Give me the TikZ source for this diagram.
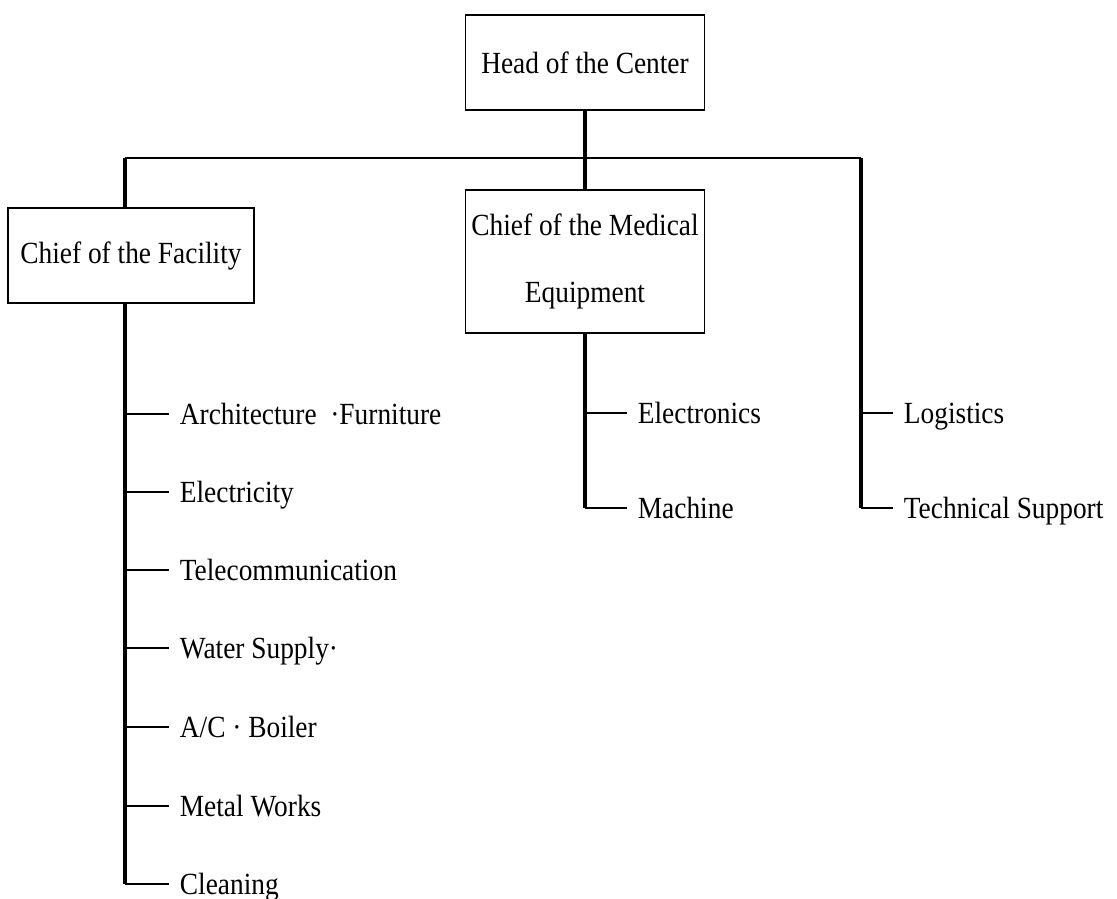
\documentclass[tikz,border=0pt]{standalone}
\usepackage{fontspec}
\setmainfont{Liberation Serif}[FakeStretch=0.89]
\usetikzlibrary{positioning}

\begin{document}
\begin{tikzpicture}[x=0.2mm, y=-0.2mm,
    unit/.style={draw, line width=1pt, minimum width=47.8mm, align=center,
                 font=\fontsize{17.5}{38}\selectfont},
    dept/.style={anchor=west, inner xsep=6pt, inner ysep=0pt,
                 text height=11.6pt, text depth=0pt, font=\fontsize{17.5}{21}\selectfont},
    bus/.style={line width=1pt},
    trunk/.style={line width=1.9pt},
    tick/.style={line width=0.9pt}]
    \useasboundingbox (0,0) rectangle (1117,899);

    % Units
    \node[unit, minimum height=19mm] (head) at (585,62.5) {Head of the Center};
    \node[unit, minimum height=19mm, minimum width=49.2mm] (fac) at (131,255.5) {Chief of the Facility};
    \node[unit, minimum height=28.6mm] (med) at (585,261.5) {Chief of the Medical\\Equipment};

    % Bus corners
    \coordinate (lbus) at (125,158);
    \coordinate (rbus) at (861,158);

    % Facility sections
    \node[dept] (arch)  at (169,414) {Architecture~~·Furniture};
    \node[dept] (elec)  at (169,492) {Electricity};
    \node[dept] (tele)  at (169,570) {Telecommunication};
    \node[dept] (water) at (169,648) {Water Supply·};
    \node[dept] (ac)    at (169,727) {A/C · Boiler};
    \node[dept] (metal) at (169,806) {Metal Works};
    \node[dept] (clean) at (169,884) {Cleaning};

    % Medical equipment sections
    \node[dept] (etron) at (627,413) {Electronics};
    \node[dept] (mach)  at (627,508) {Machine};

    % Other sections
    \node[dept] (logi) at (893,413) {Logistics};
    \node[dept] (tech) at (893,508) {Technical Support};

    % Top lines
    \draw[trunk] (head.south) -- (med.north);
    \draw[bus] (lbus) -- (rbus);
    \draw[trunk] (lbus) -- (fac.north -| lbus);
    \draw[trunk] (rbus) -- (tech.west -| rbus);

    % Facility trunk
    \draw[trunk] (fac.south -| lbus) -- (clean.west -| lbus);
    \draw[tick] (arch.west -| lbus) -- (arch.west);
    \draw[tick] (elec.west -| lbus) -- (elec.west);
    \draw[tick] (tele.west -| lbus) -- (tele.west);
    \draw[tick] (water.west -| lbus) -- (water.west);
    \draw[tick] (ac.west -| lbus) -- (ac.west);
    \draw[tick] (metal.west -| lbus) -- (metal.west);
    \draw[tick] (clean.west -| lbus) -- (clean.west);

    % Medical trunk
    \draw[trunk] (med.south) -- (mach.west -| med.south);
    \draw[tick] (etron.west -| med.south) -- (etron.west);
    \draw[tick] (mach.west -| med.south) -- (mach.west);

    % Right ticks
    \draw[tick] (logi.west -| rbus) -- (logi.west);
    \draw[tick] (tech.west -| rbus) -- (tech.west);
\end{tikzpicture}
\end{document}
